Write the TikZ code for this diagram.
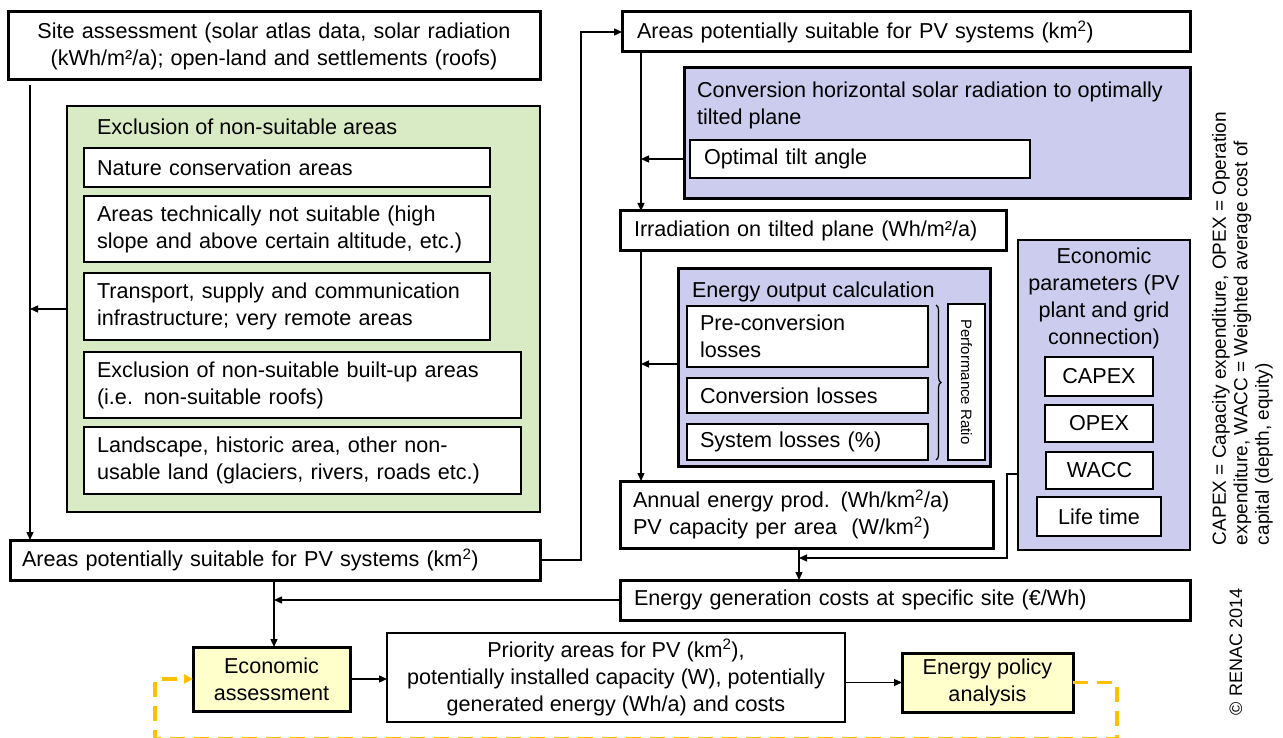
\documentclass[tikz,border=0pt]{standalone}
\usepackage{fontspec}
\setmainfont{Liberation Sans}
\usetikzlibrary{arrows.meta,decorations.pathreplacing}
\definecolor{grn}{HTML}{D8EBC4}
\definecolor{lav}{HTML}{CCCCEE}
\definecolor{ylw}{HTML}{FFFFCC}
\definecolor{org}{HTML}{FFC000}
\tikzset{
  every node/.style={font=\fontsize{21.6}{27}\selectfont, inner ysep=0pt, outer sep=0pt},
  thinbox/.style={draw, line width=1.3pt, fill=white},
  thickbox/.style={draw, line width=3pt, fill=white},
  lt/.style={align=left},
  ct/.style={align=center},
  arr/.style={line width=1.3pt, -{Triangle[length=8pt,width=7pt]}},
  dsh/.style={draw=org, line width=3.2pt, dash pattern=on 15pt off 9pt, -{Triangle[length=9pt,width=9pt]}}
}
\newcommand{\sq}{\textsuperscript{2}}
\begin{document}
\begin{tikzpicture}[x=1pt,y=-1pt]
\useasboundingbox (0,0) rectangle (1283,738);
\fill[white] (0,0) rectangle (1283,738);

% left column
\node[thickbox, ct, minimum width=532pt, minimum height=68pt, text width=520pt, inner xsep=6pt] (site) at (274,46)
  {Site assessment (solar atlas data, solar radiation\\(kWh/m²/a); open-land and settlements (roofs)};
\node[draw, line width=1.3pt, fill=grn, minimum width=473pt, minimum height=406pt] (green) at (303.5,309) {};
\node[anchor=west, inner xsep=0pt] (gtitle) at (97,127) {Exclusion of non-suitable areas};
\node[thinbox, lt, minimum width=406pt, minimum height=39pt, text width=380pt, inner xsep=13pt] (ea) at (287,167.5) {Nature conservation areas};
\node[thinbox, lt, minimum width=406pt, minimum height=66pt, text width=380pt, inner xsep=13pt] (eb) at (287,229) {Areas technically not suitable (high\\slope and above certain altitude, etc.)};
\node[thinbox, lt, minimum width=406pt, minimum height=67pt, text width=380pt, inner xsep=13pt] (ec) at (287,306.5) {Transport, supply and communication\\infrastructure; very remote areas};
\node[thinbox, lt, minimum width=437pt, minimum height=66pt, text width=411pt, inner xsep=13pt] (ed) at (302.5,385) {Exclusion of non-suitable built-up areas\\(i.e. non-suitable roofs)};
\node[thinbox, lt, minimum width=437pt, minimum height=67pt, text width=411pt, inner xsep=13pt] (ee) at (302.5,460.5) {Landscape, historic area, other non-\\usable land (glaciers, rivers, roads etc.)};
\node[thickbox, lt, minimum width=530pt, minimum height=40pt, text width=506pt, inner xsep=12pt] (areasL) at (275,560) {Areas potentially suitable for PV systems (km\sq)};

% right column
\node[thickbox, lt, minimum width=568pt, minimum height=40pt, text width=538pt, inner xsep=15pt] (areasR) at (906,32) {Areas potentially suitable for PV systems (km\sq)};
\node[draw, line width=3pt, fill=lav, minimum width=506pt, minimum height=131pt] (conv) at (937,133.5) {};
\node[anchor=west, lt, inner xsep=0pt] (convt) at (697,105) {Conversion horizontal solar radiation to optimally\\tilted plane};
\node[thinbox, lt, minimum width=340pt, minimum height=38pt, text width=312pt, inner xsep=14pt] (tilt) at (860,159) {Optimal tilt angle};
\node[thickbox, lt, minimum width=386pt, minimum height=40pt, text width=358pt, inner xsep=14pt] (irr) at (813,231) {Irradiation on tilted plane (Wh/m²/a)};
\node[draw, line width=3pt, fill=lav, minimum width=312pt, minimum height=197pt] (eoc) at (834,367.5) {};
\node[anchor=west, inner xsep=0pt] (eoct) at (692,292) {Energy output calculation};
\node[thinbox, lt, minimum width=241pt, minimum height=61pt, text width=215pt, inner xsep=13pt] (pre) at (807.5,336.5) {Pre-conversion\\losses};
\node[thinbox, lt, minimum width=241pt, minimum height=35pt, text width=215pt, inner xsep=13pt] (closs) at (807.5,395.5) {Conversion losses};
\node[thinbox, lt, minimum width=241pt, minimum height=36pt, text width=215pt, inner xsep=13pt] (sys) at (807.5,442) {System losses (\%)};
\coordinate (br1) at (936,305);
\coordinate (br2) at (936,460);
\draw[line width=1.2pt, decorate, decoration={brace, amplitude=5pt}] (br1) -- (br2);
\node[thinbox, rotate=-90, minimum width=156pt, minimum height=37pt, font=\fontsize{15}{18}\selectfont] (pr) at (966.5,382) {Performance Ratio};
\node[thickbox, lt, minimum width=373pt, minimum height=67pt, text width=347pt, inner xsep=13pt] (annual) at (806.5,514.5) {Annual energy prod. (Wh/km\sq/a)\\PV capacity per area~~(W/km\sq)};

\node[draw, line width=1.3pt, fill=lav, minimum width=172pt, minimum height=310pt] (econ) at (1104,395) {};
\node[ct] (econt) at (1104,298) {Economic\\parameters (PV\\plant and grid\\connection)};
\node[thinbox, minimum width=108pt, minimum height=39pt] (capex) at (1099,376.5) {CAPEX};
\node[thinbox, minimum width=108pt, minimum height=37pt] (opex) at (1099,423.5) {OPEX};
\node[thinbox, minimum width=107pt, minimum height=37pt] (wacc) at (1099.5,470.5) {WACC};
\node[thinbox, minimum width=124pt, minimum height=39pt] (life) at (1099,516.5) {Life time};

\node[thickbox, lt, minimum width=570pt, minimum height=40pt, text width=542pt, inner xsep=14pt] (gen) at (905,600) {Energy generation costs at specific site (€/Wh)};

% bottom row
\node[thickbox, fill=ylw, ct, minimum width=157pt, minimum height=64pt] (ecoA) at (271.5,679) {Economic\\assessment};
\node[thinbox, ct, minimum width=458pt, minimum height=89pt] (prio) at (616,677.5) {Priority areas for PV (km\sq),\\potentially installed capacity (W), potentially\\generated energy (Wh/a) and costs};
\node[thickbox, fill=ylw, ct, minimum width=171pt, minimum height=59pt] (pol) at (987.5,682.5) {Energy policy\\analysis};

% notes
\node[rotate=90, anchor=north west, lt, inner sep=0pt, font=\fontsize{19}{21.5}\selectfont] (notes) at (1212,545)
  {CAPEX = Capacity expenditure, OPEX = Operation\\expenditure, WACC = Weighted average cost of\\capital (depth, equity)};
\node[rotate=90, font=\fontsize{18}{21}\selectfont] (copy) at (1236,652) {© RENAC 2014};

% connectors
\coordinate (sL) at (30,85);
\draw[arr] (sL) -- (sL |- areasL.north);
\draw[arr] (green.west) -- (green.west -| sL);
\coordinate (j1) at (581,32);
\draw[arr] (areasL.east) -| (j1) -- (areasR.west);
\coordinate (v1) at (641,0);
\draw[arr] (v1 |- areasR.south) -- (v1 |- irr.north);
\draw[arr] (conv.west |- tilt.west) -- (v1 |- tilt.west);
\draw[arr] (v1 |- irr.south) -- (v1 |- annual.north);
\coordinate (eo) at (678,364);
\draw[arr] (eo) -- (eo -| v1);
\coordinate (v2) at (799,0);
\draw[arr] (v2 |- annual.south) -- (v2 |- gen.north);
\coordinate (e1) at (1007,474);
\coordinate (e2) at (1007,558);
\draw[arr] (econ.west |- e1) -- (e1) -- (e2) -- (e2 -| v2);
\coordinate (v3) at (274,0);
\draw[arr] (gen.west) -- (gen.west -| v3);
\draw[arr] (v3 |- areasL.south) -- (v3 |- ecoA.north);
\draw[arr] (ecoA.east) -- (prio.west |- ecoA.east);
\draw[arr] (prio.east |- pol.west) -- (pol.west);
\coordinate (d1) at (1117,682.5);
\coordinate (d2) at (1117,738.5);
\coordinate (d3) at (155,738.5);
\coordinate (d4) at (155,679);
\draw[dsh] (pol.east) -- (d1) -- (d2) -- (d3) -- (d4) -- (ecoA.west);
\end{tikzpicture}
\end{document}
